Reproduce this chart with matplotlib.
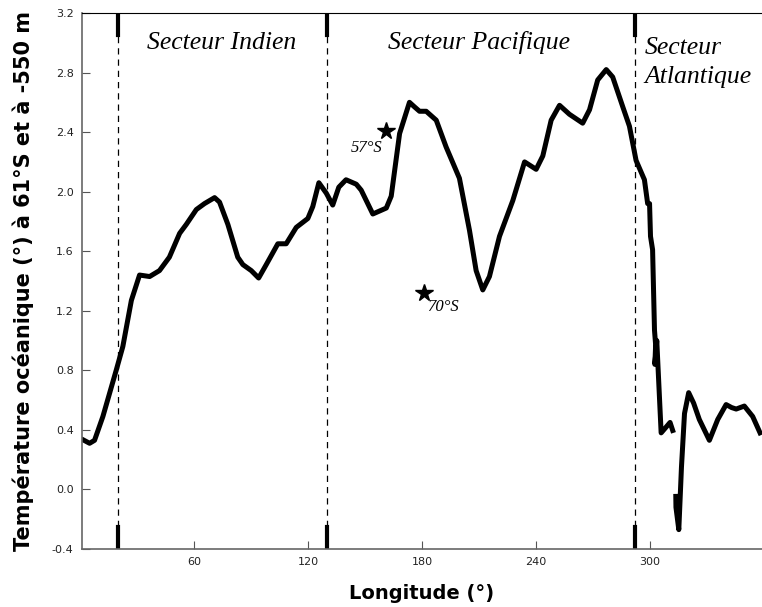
import matplotlib.pyplot as plt
import numpy as np

# Data
lon_main = [0.6, 5, 7.6, 12, 19, 22.5, 27, 31.3, 36.6, 41.8, 47, 52.4, 55.9, 61.2, 65.5,
            70.8, 73.4, 77.8, 83, 85.7, 90.1, 94, 98, 104.1, 108.5, 113.8, 119.9, 122.5,
            125.7, 129.6, 133, 136.2, 140, 145.4, 148, 154.1, 161.2, 163.8, 168.2, 173.4,
            176, 178.7, 182.2, 187.5, 192.7, 199.7, 205, 208.5, 212, 215.5, 220.8, 227.8,
            234, 240.1, 243.6, 248, 252.4, 257.6, 264.6, 268.2, 272.5, 277, 280.4, 285.7,
            289.2, 292.7, 297.1, 298.8, 299.8, 300.3, 301.4, 302.4, 303.0, 302.6, 303.6,
            305.9, 308.6, 310.6, 312.4]
temp_main = [0.34, 0.31, 0.33, 0.49, 0.80, 0.96, 1.27, 1.44, 1.43, 1.47, 1.56, 1.72, 1.78,
             1.88, 1.92, 1.96, 1.93, 1.78, 1.56, 1.51, 1.47, 1.42, 1.51, 1.65, 1.65, 1.76,
             1.82, 1.90, 2.06, 1.99, 1.91, 2.03, 2.08, 2.05, 2.01, 1.85, 1.89, 1.97, 2.39,
             2.60, 2.57, 2.54, 2.54, 2.48, 2.30, 2.09, 1.74, 1.47, 1.34, 1.43, 1.70, 1.94,
             2.20, 2.15, 2.24, 2.48, 2.58, 2.52, 2.46, 2.55, 2.75, 2.82, 2.77, 2.57, 2.44,
             2.21, 2.08, 1.92, 1.92, 1.70, 1.61, 1.07, 0.97, 0.84, 1.00, 0.38, 0.42, 0.45,
             0.38]

lon_east = [313.6, 313.7, 315.2, 316.6, 318.2, 320.4, 323, 326, 331.3, 335.7, 340.1, 343,
            345.4, 349.7, 354.1, 358.5]
temp_east = [-0.03, -0.12, -0.27, 0.15, 0.51, 0.65, 0.58, 0.47, 0.33, 0.47, 0.57, 0.55,
             0.54, 0.56, 0.49, 0.365]

boundaries = [20, 130, 292]
sectors = ["Secteur Indien", "Secteur Pacifique", "Secteur\nAtlantique"]
sector_x = [74.5, 210, 297]
stars_lon = [161.3, 180.8]
stars_temp = [2.41, 1.32]
star_labels = ["57°S", "70°S"]

plt.rcParams["figure.dpi"] = 100
fig = plt.figure(figsize=(7.62, 6.07))
ax = fig.add_axes([82 / 762, 58 / 607, 680 / 762, 536 / 607])

ax.plot(lon_main, temp_main, color='k', linewidth=3.6, solid_joinstyle='round',
        solid_capstyle='butt')
ax.plot(lon_east, temp_east, color='k', linewidth=3.6, solid_joinstyle='round',
        solid_capstyle='butt')

# sector boundaries
for b in boundaries:
    ax.plot([b, b], [-0.4, 3.2], color='k', linewidth=0.9, linestyle=(0, (5, 4)))
    ax.plot([b, b], [3.2, 3.05], color='k', linewidth=3)
    ax.plot([b, b], [-0.4, -0.25], color='k', linewidth=3)

# sector names
ax.text(sector_x[0], 3.0, sectors[0], ha='center', va='center', fontsize=18.5,
        family='Liberation Serif', style='italic')
ax.text(sector_x[1], 3.0, sectors[1], ha='center', va='center', fontsize=18.5,
        family='Liberation Serif', style='italic')
ax.text(sector_x[2], 2.87, sectors[2], ha='left', va='center', fontsize=18.5,
        family='Liberation Serif', style='italic', linespacing=1.4)

# stations
ax.plot(stars_lon, stars_temp, linestyle='none', marker='*', markersize=13, color='k')
ax.text(stars_lon[0] - 2, stars_temp[0] - 0.06, star_labels[0], ha='right', va='top',
        fontsize=12, family='Liberation Serif', style='italic')
ax.text(stars_lon[1] + 2, stars_temp[1] - 0.04, star_labels[1], ha='left', va='top',
        fontsize=12, family='Liberation Serif', style='italic')

ax.set_xlim(1, 359)
ax.set_ylim(-0.4, 3.2)
ax.set_xticks([60, 120, 180, 240, 300])
ax.set_yticks(np.arange(-0.4, 3.21, 0.4))
ax.set_yticklabels([f"{v:.1f}" for v in np.arange(-0.4, 3.21, 0.4)])
ax.tick_params(direction='in', length=6, width=0.8, labelsize=8, colors='#222222',
               color='#555555', pad=6)
ax.spines['right'].set_visible(False)
ax.spines['left'].set_color('#666666')
ax.spines['bottom'].set_color('#666666')
ax.spines['left'].set_linewidth(1.2)
ax.spines['bottom'].set_linewidth(1.2)

ax.set_xlabel("Longitude (°)", fontsize=14, fontweight='bold', labelpad=12)
ax.set_ylabel("Température océanique (°) à 61°S et à -550 m", fontsize=15,
              fontweight='bold', labelpad=13)

plt.savefig("out.png")
